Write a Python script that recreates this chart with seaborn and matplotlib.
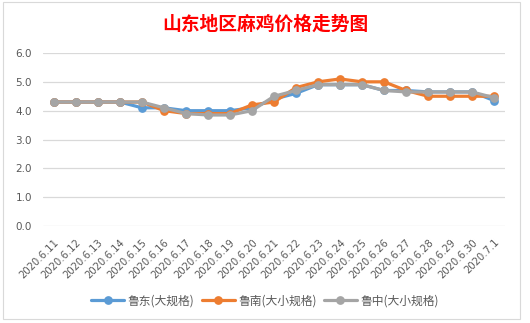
import matplotlib
matplotlib.use("Agg")
import matplotlib.pyplot as plt
import seaborn as sns
import pandas as pd
from matplotlib.patches import Rectangle
from matplotlib.lines import Line2D

dates = ["2020.6.11", "2020.6.12", "2020.6.13", "2020.6.14", "2020.6.15", "2020.6.16",
         "2020.6.17", "2020.6.18", "2020.6.19", "2020.6.20", "2020.6.21", "2020.6.22",
         "2020.6.23", "2020.6.24", "2020.6.25", "2020.6.26", "2020.6.27", "2020.6.28",
         "2020.6.29", "2020.6.30", "2020.7.1"]
ludong = [4.3, 4.3, 4.3, 4.3, 4.1, 4.1, 4.0, 4.0, 4.0, 4.1, 4.4, 4.6,
          4.9, 4.9, 4.9, 4.7, 4.7, 4.65, 4.65, 4.65, 4.35]
lunan = [4.3, 4.3, 4.3, 4.3, 4.3, 4.0, 3.9, 3.9, 3.9, 4.2, 4.3, 4.8,
         5.0, 5.1, 5.0, 5.0, 4.7, 4.5, 4.5, 4.5, 4.5]
luzhong = [4.3, 4.3, 4.3, 4.3, 4.3, 4.1, 3.9, 3.85, 3.85, 4.0, 4.5, 4.7,
           4.9, 4.9, 4.9, 4.7, 4.65, 4.65, 4.65, 4.65, 4.45]
series_names = ["鲁东(大规格)", "鲁南(大小规格)", "鲁中(大小规格)"]
colors = ["#5B9BD5", "#ED7D31", "#A5A5A5"]
title = "山东地区麻鸡价格走势图"
yticks = [0.0, 1.0, 2.0, 3.0, 4.0, 5.0, 6.0]

sns.set_theme(style="white")
plt.rcParams['font.family'] = ['Noto Sans CJK SC', 'DejaVu Sans']

rows = []
for name, vals in zip(series_names, [ludong, lunan, luzhong]):
    for i, v in enumerate(vals):
        rows.append({"idx": i, "date": dates[i], "price": v, "series": name})
df = pd.DataFrame(rows)

fig = plt.figure(figsize=(5.30, 3.23), dpi=100)
ax = fig.add_axes([0.081, 0.300, 0.872, 0.536])

sns.lineplot(data=df, x="idx", y="price", hue="series", palette=colors,
             marker="o", markersize=6.3, markeredgewidth=0, linewidth=2.3,
             ax=ax, legend=False, sort=False)

ax.set_xlim(-0.5, len(dates) - 0.5)
ax.set_ylim(0, 6)
ax.set_yticks(yticks)
ax.set_yticklabels([f"{t:.1f}" for t in yticks], fontsize=7.5, color="#595959",
                   family=['DejaVu Sans'])
ax.set_xticks(range(len(dates)))
ax.set_xticklabels(dates, rotation=45, ha="right", rotation_mode="anchor",
                   fontsize=7.2, color="#595959", family=['DejaVu Sans'])
ax.tick_params(axis="both", length=0)
ax.tick_params(axis="x", pad=8)
ax.tick_params(axis="y", pad=8)
ax.grid(axis="y", color="#D9D9D9", linewidth=0.9)
ax.set_axisbelow(True)
for s in ax.spines.values():
    s.set_visible(False)
ax.set_xlabel("")
ax.set_ylabel("")

fig.text(0.5, 0.925, title, ha="center", va="center", color="#FF0000",
         fontsize=13.5, fontweight="bold")

handles = [Line2D([0], [0], color=c, linewidth=2.3, marker="o", markersize=6.3,
                  markeredgewidth=0) for c in colors]
fig.legend(handles, series_names, loc="center", bbox_to_anchor=(0.5, 0.068),
           ncol=3, frameon=False, fontsize=8.5, handlelength=2.8,
           columnspacing=0.6, handletextpad=0.3, labelcolor="#595959")

fig.add_artist(Rectangle((3 / 530, 4 / 323), 517 / 530, 317 / 323,
                         transform=fig.transFigure, fill=False,
                         edgecolor="#D9D9D9", linewidth=0.8))

fig.savefig("out.png", dpi=100)
